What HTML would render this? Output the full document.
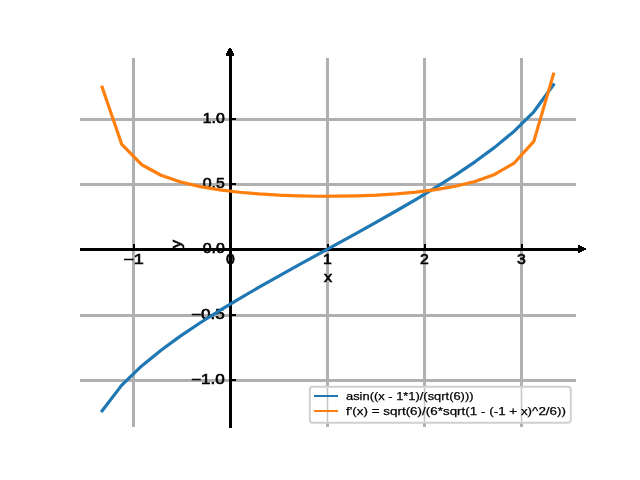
<!DOCTYPE html>
<html><head><meta charset="utf-8"><title>plot</title>
<style>
html,body{margin:0;padding:0;background:#fff;width:640px;height:480px;overflow:hidden}
svg{display:block;will-change:transform}
text{font-family:"Liberation Sans",sans-serif;fill:#000}
.t text{stroke:#000;stroke-width:0.6px}
.l text{stroke:#000;stroke-width:0.25px}
</style></head><body>
<svg width="640" height="480" viewBox="0 0 640 480">
<rect x="0" y="0" width="640" height="480" fill="#fff"/>
<g fill="#b0b0b0">
<rect x="132" y="58" width="3" height="369"/>
<rect x="229" y="58" width="3" height="369"/>
<rect x="326" y="58" width="3" height="369"/>
<rect x="423" y="58" width="3" height="369"/>
<rect x="520" y="58" width="3" height="369"/>
<rect x="80" y="118" width="496" height="3"/>
<rect x="80" y="183" width="496" height="3"/>
<rect x="80" y="248" width="496" height="3"/>
<rect x="80" y="314" width="496" height="3"/>
<rect x="80" y="379" width="496" height="3"/>
</g>
<g class="t" font-size="14">
<text x="133.5" y="264" text-anchor="middle" textLength="20.47" lengthAdjust="spacingAndGlyphs">−1</text>
<text x="230.5" y="264" text-anchor="middle" textLength="8.83" lengthAdjust="spacingAndGlyphs">0</text>
<text x="327.5" y="264" text-anchor="middle" textLength="8.83" lengthAdjust="spacingAndGlyphs">1</text>
<text x="424.5" y="264" text-anchor="middle" textLength="8.83" lengthAdjust="spacingAndGlyphs">2</text>
<text x="521.5" y="264" text-anchor="middle" textLength="8.83" lengthAdjust="spacingAndGlyphs">3</text>
<text x="202.72000000000003" y="123" textLength="22.08" lengthAdjust="spacingAndGlyphs">1.0</text>
<text x="202.72000000000003" y="188" textLength="22.08" lengthAdjust="spacingAndGlyphs">0.5</text>
<text x="202.72000000000003" y="253" textLength="22.08" lengthAdjust="spacingAndGlyphs">0.0</text>
<text x="191.08" y="319" textLength="33.72" lengthAdjust="spacingAndGlyphs">−0.5</text>
<text x="191.08" y="384" textLength="33.72" lengthAdjust="spacingAndGlyphs">−1.0</text>
<text x="328" y="282" text-anchor="middle" textLength="8.2" lengthAdjust="spacingAndGlyphs">x</text>
<text transform="translate(180.5,244.2) rotate(-90)" text-anchor="middle" textLength="8.2" lengthAdjust="spacingAndGlyphs">y</text>
</g>
<g fill="#000">
<rect x="80" y="248" width="499" height="3"/>
<rect x="229" y="56" width="3" height="372"/>
<rect x="133" y="244" width="2" height="4"/>
<rect x="327" y="244" width="2" height="4"/>
<rect x="424" y="244" width="2" height="4"/>
<rect x="521" y="244" width="2" height="4"/>
<rect x="232" y="118" width="4" height="2"/>
<rect x="232" y="183" width="4" height="2"/>
<rect x="232" y="314" width="4" height="2"/>
<rect x="232" y="379" width="4" height="2"/>
<path d="M229 48h2v1h1v2h1v2h1v3h-8v-3h1v-2h1v-2h1z"/>
<path d="M578 245h2v1h2v1h2v1h2v2h-2v1h-2v1h-2v1h-2z"/>
</g>
<polyline fill="none" stroke="#1f77b4" stroke-width="3.2" stroke-linejoin="round" stroke-linecap="square" points="102.17,410.83 121.79,385.14 141.41,366.18 161.03,350.17 180.65,335.89 200.27,322.74 219.89,310.38 239.52,298.58 259.14,287.19 278.76,276.09 298.38,265.18 318.00,254.38 337.62,243.61 357.24,232.81 376.86,221.88 396.48,210.76 416.11,199.33 435.73,187.49 455.35,175.06 474.97,161.81 494.59,147.39 514.21,131.16 533.83,111.78 553.45,84.85"/>
<polyline fill="none" stroke="#ff7f0e" stroke-width="3.2" stroke-linejoin="round" stroke-linecap="square" points="102.17,87.34 121.79,144.43 141.41,164.48 161.03,175.24 180.65,182.01 200.27,186.62 219.89,189.90 239.52,192.26 259.14,193.96 278.76,195.14 298.38,195.88 318.00,196.23 337.62,196.21 357.24,195.82 376.86,195.04 396.48,193.82 416.11,192.06 435.73,189.62 455.35,186.23 474.97,181.45 494.59,174.39 514.21,163.05 533.83,141.40 553.45,74.20"/>
<rect x="309.8" y="386.8" width="261" height="36" rx="3" ry="3" fill="#fff" fill-opacity="0.8" stroke="#cfcfcf" stroke-width="1.9"/>
<rect x="326" y="388" width="3" height="34" fill="#efefef"/><rect x="327" y="388" width="1" height="34" fill="#c6c6c6"/>
<rect x="423" y="388" width="3" height="34" fill="#efefef"/><rect x="424" y="388" width="1" height="34" fill="#c6c6c6"/>
<rect x="520" y="388" width="3" height="34" fill="#efefef"/><rect x="521" y="388" width="1" height="34" fill="#c6c6c6"/>
<rect x="314" y="395" width="24" height="2" fill="#1f77b4"/>
<rect x="314" y="410" width="24" height="2" fill="#ff7f0e"/>
<g class="l" font-size="11.8">
<text x="346" y="400" textLength="127.5" lengthAdjust="spacingAndGlyphs">asin((x - 1*1)/(sqrt(6)))</text>
<text x="346" y="414.5" textLength="220" lengthAdjust="spacingAndGlyphs">f'(x) = sqrt(6)/(6*sqrt(1 - (-1 + x)^2/6))</text>
</g>
</svg>
</body></html>
